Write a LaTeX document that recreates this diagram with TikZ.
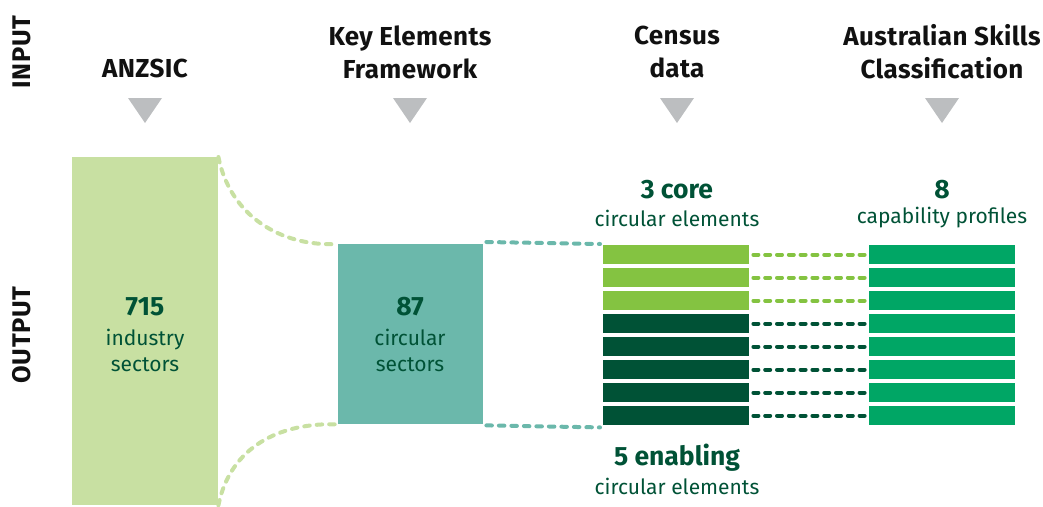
\documentclass[tikz,border=0pt]{standalone}
\usepackage{fontspec}
\setmainfont{Fira Sans}
\definecolor{dkgreen}{HTML}{005236}
\definecolor{ltbox}{HTML}{C8E0A2}
\definecolor{tealbox}{HTML}{6BB8AB}
\definecolor{limebar}{HTML}{84C341}
\definecolor{capbar}{HTML}{00A665}
\definecolor{tri}{HTML}{BCBEC0}
\definecolor{hdr}{HTML}{111111}
\begin{document}
\begin{tikzpicture}[x=1pt,y=-1pt,
  hdrtext/.style={font=\bfseries\fontsize{26}{33}\selectfont\addfontfeatures{LetterSpace=1.5},text=hdr,align=center,inner sep=0},
  sidetext/.style={font=\bfseries\fontsize{25.5}{26}\selectfont\addfontfeatures{LetterSpace=2},text=hdr,rotate=90,inner sep=0},
  numtext/.style={font=\bfseries\fontsize{26.5}{28}\selectfont,text=dkgreen,inner sep=0},
  subtext/.style={font=\fontsize{21}{26}\selectfont,text=dkgreen,align=center,inner sep=0},
  tritip/.style={fill=tri,draw=none},
  bar/.style={minimum width=146pt,minimum height=19pt,inner sep=0,draw=none},
  dsh/.style={line width=4pt,dash pattern=on 5.5pt off 7pt,line cap=round},
  bardsh/.style={line width=4pt,dash pattern=on 5pt off 6.8pt,line cap=round},
]
\useasboundingbox (0,0) rectangle (1043,506);
% side labels
\node[sidetext] (inp) at (22,52) {INPUT};
\node[sidetext] (outp) at (22,335) {OUTPUT};
% headers
\node[hdrtext] (h1) at (145,68) {ANZSIC};
\node[hdrtext] (h2) at (410,52) {Key Elements\\Framework};
\node[hdrtext] (h3) at (677,52) {Census\\data};
\node[hdrtext] (h4) at (942,52) {Australian Skills\\Classification};
% triangles
\foreach \x in {145,410,677,942}{
  \fill[tritip] (\x-17,98) -- (\x+17,98) -- (\x,123) -- cycle;
}
% boxes
\node[fill=ltbox,minimum width=146pt,minimum height=348pt,inner sep=0,anchor=north west] (anz) at (72,157) {};
\node[fill=tealbox,minimum width=145pt,minimum height=180pt,inner sep=0,anchor=north west] (kef) at (338,244) {};
\node[numtext] (n715) at (145,307) {715};
\node[subtext] (t715) at (145,350) {industry\\sectors};
\node[numtext] (n87) at (410,307) {87};
\node[subtext] (t87) at (410,350) {circular\\sectors};
% curves
\draw[dsh,ltbox] (anz.north east) .. controls (230,215) and (280,247) .. (kef.north west);
\draw[dsh,ltbox] (anz.south east) .. controls (230,447) and (280,422) .. (kef.south west);
% bars
\foreach \i in {0,...,7}{
  \pgfmathsetmacro{\yy}{245+23*\i}
  \ifnum\i<3
    \node[bar,fill=limebar,anchor=north west] (L\i) at (603,\yy) {};
  \else
    \node[bar,fill=dkgreen,anchor=north west] (L\i) at (603,\yy) {};
  \fi
  \node[bar,fill=capbar,anchor=north west] (R\i) at (869,\yy) {};
}
\foreach \i in {0,1,2}{
  \draw[bardsh,limebar] ([xshift=4pt]L\i.east) -- ([xshift=-3pt]R\i.west);
}
\foreach \i in {3,...,7}{
  \draw[bardsh,dkgreen] ([xshift=4pt]L\i.east) -- ([xshift=-3pt]R\i.west);
}
% teal dashes
\draw[dsh,tealbox] ([yshift=2pt,xshift=3pt]kef.north east) -- ([yshift=1pt,xshift=-3pt]L0.north west);
\draw[dsh,tealbox] ([yshift=-1pt,xshift=3pt]kef.south east) -- ([yshift=-2pt,xshift=-3pt]L7.south west);
% labels
\node[numtext] (core) at (677,190) {3 core};
\node[subtext] (corec) at (677,218) {circular elements};
\node[numtext] (eight) at (942,190) {8};
\node[subtext] (capp) at (942,218) {capability profiles};
\node[numtext] (enab) at (677,458) {5 enabling};
\node[subtext] (enabc) at (677,486) {circular elements};
\end{tikzpicture}
\end{document}
